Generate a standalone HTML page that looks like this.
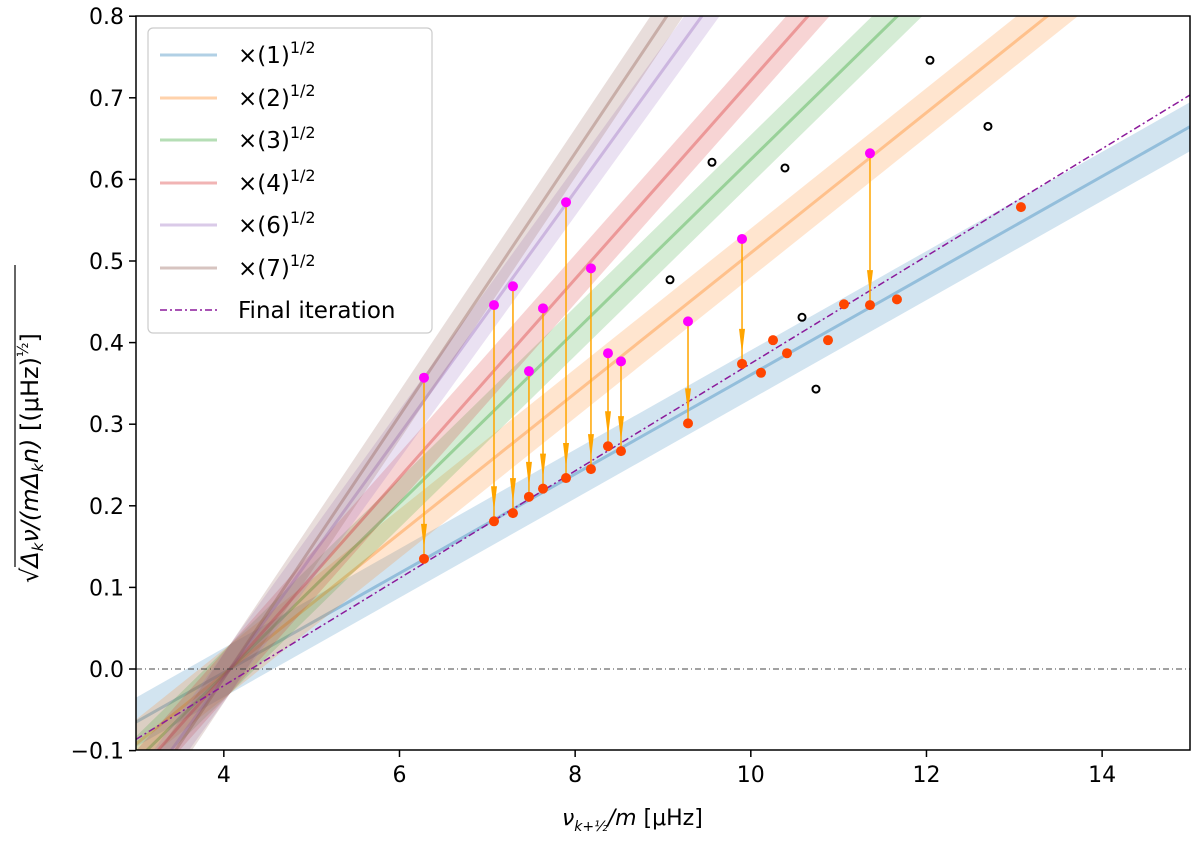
<!DOCTYPE html>
<html><head><meta charset="utf-8"><style>
html,body{margin:0;background:#fff;width:1200px;height:845px;overflow:hidden;}
svg{display:block;font-family:"DejaVu Sans","Liberation Sans",sans-serif;}
#overlay{position:absolute;left:0;top:0;width:1200px;height:845px;pointer-events:none;}
</style></head><body>
<svg id="chart" width="1200" height="845" viewBox="0 0 1200 845" style="position:absolute;left:0;top:0;">
<defs><clipPath id="clip"><rect x="136" y="16" width="1054" height="734"/></clipPath></defs>
<g id="bands" clip-path="url(#clip)"></g>
<g id="marks" clip-path="url(#clip)"></g>
<g id="axes"></g>
</svg>
<script>
const multipliers=[1,2,3,4,6,7];
const seriesLabels=["1","2","3","4","6","7"];
const colors=["#1f77b4","#ff7f0e","#2ca02c","#d62728","#9467bd","#8c564b"];
const pivotX=4.07, pivotY=0.0, baseSlope=0.0608, bandHalf=0.03;
const finalSlope=0.0658, finalZero=4.31;
const redX=[6.279,7.076,7.292,7.474,7.634,7.896,8.180,8.374,8.522,9.285,9.900,10.116,10.253,10.412,10.879,11.061,11.357,11.664,13.076];
const redY=[0.135,0.181,0.191,0.211,0.221,0.234,0.245,0.273,0.267,0.301,0.374,0.363,0.403,0.387,0.403,0.447,0.446,0.453,0.566];
const magIdx=[0,1,2,3,4,5,6,7,8,9,10,16];
const magY=[0.357,0.446,0.469,0.365,0.442,0.572,0.491,0.387,0.377,0.426,0.527,0.632];
const blackX=[9.558,10.389,9.080,10.583,10.742,12.040,12.700];
const blackY=[0.621,0.614,0.477,0.431,0.343,0.746,0.665];
const xTicks=[4,6,8,10,12,14];
const yTicks=[-0.1,0,0.1,0.2,0.3,0.4,0.5,0.6,0.7,0.8];

const X=v=>136+(v-3)*87.83;
const Y=v=>669-v*816;
const NS="http://www.w3.org/2000/svg";
function mk(tag,attrs,parent){const e=document.createElementNS(NS,tag);for(const k in attrs)e.setAttribute(k,attrs[k]);parent.appendChild(e);return e;}
const bands=document.getElementById('bands'),marks=document.getElementById('marks'),axes=document.getElementById('axes');

multipliers.forEach((m,i)=>{
  const s=baseSlope*Math.sqrt(m);
  const f=x=>pivotY+s*(x-pivotX);
  const x0=Math.max(3,pivotX+(-0.1-bandHalf-pivotY)/s);
  const x1=Math.min(15,pivotX+(0.8+bandHalf-pivotY)/s);
  const b=mk('polygon',{points:`${X(x0)},${Y(f(x0)+bandHalf)} ${X(x1)},${Y(f(x1)+bandHalf)} ${X(x1)},${Y(f(x1)-bandHalf)} ${X(x0)},${Y(f(x0)-bandHalf)}`,fill:colors[i],'fill-opacity':0.2},bands);
  
  
  const l=mk('line',{x1:X(x0),y1:Y(f(x0)),x2:X(x1),y2:Y(f(x1)),stroke:colors[i],'stroke-opacity':0.35,'stroke-width':3},bands);
  
  
});
const zl=mk('line',{x1:136,y1:Y(0),x2:1190,y2:Y(0),stroke:'#444','stroke-width':1,'stroke-dasharray':'6,3,1,3'},marks);


const fl=mk('line',{x1:X(3),y1:Y(finalSlope*(3-finalZero)),x2:X(15),y2:Y(finalSlope*(15-finalZero)),stroke:'#8b1a9b','stroke-width':1.5,'stroke-dasharray':'7,3,2,3'},marks);



magIdx.forEach((ri,j)=>{
  const x=X(redX[ri]),yt=Y(magY[j]),yb=Y(redY[ri]);
  const a=mk('line',{x1:x,y1:yt,x2:x,y2:yb,stroke:'#ffa500','stroke-width':1.5},marks);
  
  
  const tip=yb-10, base=tip-25;
  const h=mk('polygon',{points:`${x-3},${base} ${x+3},${base} ${x},${tip}`,fill:'#ffa500'},marks);
  
  
});
blackX.forEach((bx,i)=>{
  const c=mk('circle',{cx:X(bx),cy:Y(blackY[i]),r:3.5,fill:'none',stroke:'#000','stroke-width':2},marks);
  
  
});
redX.forEach((rx,i)=>{
  const c=mk('circle',{cx:X(rx),cy:Y(redY[i]),r:5,fill:'#ff4500'},marks);
  
  
});
magIdx.forEach((ri,j)=>{
  const c=mk('circle',{cx:X(redX[ri]),cy:Y(magY[j]),r:5,fill:'#ff00ff'},marks);
  
  
});

const frame=mk('rect',{x:136,y:16,width:1054,height:734,fill:'none',stroke:'#000','stroke-width':1.5},axes);


xTicks.forEach(t=>{
  const tk=mk('line',{x1:X(t),y1:750,x2:X(t),y2:757,stroke:'#000','stroke-width':1.5},axes);
  
  
  const tx=mk('text',{x:X(t),y:782,'text-anchor':'middle','font-size':22},axes);
  tx.textContent=t;
  
  
});
yTicks.forEach(t=>{
  const tk=mk('line',{x1:129,y1:Y(t),x2:136,y2:Y(t),stroke:'#000','stroke-width':1.5},axes);
  
  
  const tx=mk('text',{x:124,y:Y(t)+8,'text-anchor':'end','font-size':22},axes);
  tx.textContent=(t<0?'\u2212':'')+Math.abs(t).toFixed(1);
  
  
});
</script>
<div id="overlay">
<svg width="1200" height="845" style="position:absolute;left:0;top:0;">
<g font-family="DejaVu Sans, Liberation Sans, sans-serif">
<rect x="148" y="28" width="284" height="305" rx="5" fill="#fff" fill-opacity="0.85" stroke="#ccc" stroke-width="1.2"/>
<g><line x1="160" y1="55" x2="217" y2="55" stroke="#1f77b4" stroke-opacity="0.35" stroke-width="3"/><text x="238" y="63" font-size="23">×(1)<tspan dy="-10" font-size="16">1/2</tspan></text></g>
<g><line x1="160" y1="98" x2="217" y2="98" stroke="#ff7f0e" stroke-opacity="0.35" stroke-width="3"/><text x="238" y="106" font-size="23">×(2)<tspan dy="-10" font-size="16">1/2</tspan></text></g>
<g><line x1="160" y1="140" x2="217" y2="140" stroke="#2ca02c" stroke-opacity="0.35" stroke-width="3"/><text x="238" y="148" font-size="23">×(3)<tspan dy="-10" font-size="16">1/2</tspan></text></g>
<g><line x1="160" y1="183" x2="217" y2="183" stroke="#d62728" stroke-opacity="0.35" stroke-width="3"/><text x="238" y="191" font-size="23">×(4)<tspan dy="-10" font-size="16">1/2</tspan></text></g>
<g><line x1="160" y1="225" x2="217" y2="225" stroke="#9467bd" stroke-opacity="0.35" stroke-width="3"/><text x="238" y="233" font-size="23">×(6)<tspan dy="-10" font-size="16">1/2</tspan></text></g>
<g><line x1="160" y1="268" x2="217" y2="268" stroke="#8c564b" stroke-opacity="0.35" stroke-width="3"/><text x="238" y="276" font-size="23">×(7)<tspan dy="-10" font-size="16">1/2</tspan></text></g>
<g><line x1="160" y1="310" x2="217" y2="310" stroke="#8b1a9b" stroke-width="1.5" stroke-dasharray="7,3,2,3"/><text x="238" y="318" font-size="23">Final iteration</text></g>
</g>
<g font-family="DejaVu Sans, Liberation Sans, sans-serif">
<text x="562" y="825" font-size="22"><tspan font-style="italic">ν</tspan><tspan font-size="14" dy="6" font-style="italic">k+½</tspan><tspan dy="-6" font-style="italic">/m</tspan>  [μHz]</text>
</g>
<g transform="translate(38,383) rotate(-90)" font-family="DejaVu Sans, Liberation Sans, sans-serif">
<text x="-200" y="0" font-size="24">√<tspan font-style="italic">Δ</tspan><tspan font-size="15" dy="5" font-style="italic">k</tspan><tspan dy="-5" font-style="italic">ν/(mΔ</tspan><tspan font-size="15" dy="5" font-style="italic">k</tspan><tspan dy="-5" font-style="italic">n)</tspan>   [(μHz)<tspan font-size="15" dy="-10">½</tspan><tspan dy="10">]</tspan></text>
<line x1="-184" y1="-23" x2="118" y2="-23" stroke="#000" stroke-width="1.2"/>
</g>
</svg>
</div>
</body></html>
